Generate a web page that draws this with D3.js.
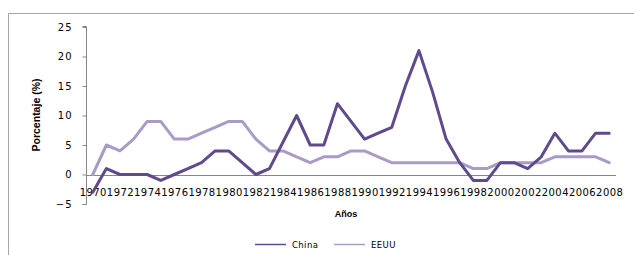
<!DOCTYPE html>
<html>
<head>
<meta charset="utf-8">
<script src="https://cdn.jsdelivr.net/npm/d3@7"></script>
<style>
  html, body { margin: 0; padding: 0; background: #fff; }
  svg { display: block; }
  text { font-family: "DejaVu Sans", Verdana, sans-serif; fill: #000; }
</style>
</head>
<body>
<svg id="chart" width="634" height="255"></svg>
<script>
const years = d3.range(1970, 2009);
const china = [-3, 1, 0, 0, 0, -1, 0, 1, 2, 4, 4, 2, 0, 1, 5.5, 10, 5, 5, 12, 9, 6, 7, 8, 15, 21, 14, 6, 2, -1, -1, 2, 2, 1, 3, 7, 4, 4, 7, 7];
const eeuu  = [0, 5, 4, 6, 9, 9, 6, 6, 7, 8, 9, 9, 6, 4, 4, 3, 2, 3, 3, 4, 4, 3, 2, 2, 2, 2, 2, 2, 1, 1, 2, 2, 2, 2, 3, 3, 3, 3, 2];
const yTicks = [-5, 0, 5, 10, 15, 20, 25];
const xTickLabels = years.filter((y, i) => i % 2 === 0);
const seriesNames = ["China", "EEUU"];
const colors = ["#604a8c", "#a99bc6"];

const svg = d3.select("#chart");

// frame
svg.append("path")
  .attr("d", "M8.5,255 V13.5 H634")
  .attr("fill", "none").attr("stroke", "#a6a6a6").attr("stroke-width", 1);

const x = d3.scalePoint().domain(years).range([86, 616]).padding(0.5);
const y = d3.scaleLinear().domain([-5, 25]).range([204, 27]);

// y axis
const yAxis = svg.append("g").attr("transform", "translate(86.5,0)")
  .call(d3.axisLeft(y).tickValues(yTicks).tickSize(4).tickPadding(10).tickFormat(d3.format("d")));
yAxis.select(".domain").attr("stroke", "#868686").attr("d", `M-4,${y(-5)+0.5}H0V${y(25)-0.5}H-4`);
yAxis.selectAll(".tick line").attr("stroke", "#868686");
yAxis.selectAll("text").style("font-family", "'DejaVu Sans', sans-serif").style("font-size", "10px")
  .style("letter-spacing", "1px").attr("fill", "#000");

// x axis at y=0
svg.append("line")
  .attr("x1", 86).attr("x2", 616)
  .attr("y1", Math.round(y(0)) + 0.5).attr("y2", Math.round(y(0)) + 0.5)
  .attr("stroke", "#868686");

const xAxis = svg.append("g").attr("transform", `translate(0,${Math.round(y(0))})`)
  .call(d3.axisBottom(x).tickValues(xTickLabels).tickSize(0).tickPadding(0));
xAxis.select(".domain").remove();
xAxis.selectAll("text")
  .attr("y", 21).attr("dy", 0)
  .style("font-family", "'DejaVu Sans', sans-serif").style("font-size", "10px")
  .style("letter-spacing", "0.45px").attr("fill", "#000");

// lines
const line = d3.line().x((d, i) => x(years[i])).y(d => y(d));
[eeuu, china].forEach((s, k) => {
  svg.append("path").datum(s)
    .attr("d", line)
    .attr("fill", "none")
    .attr("stroke", colors[1 - k])
    .attr("stroke-width", 3)
    .attr("stroke-linejoin", "round")
    .attr("stroke-linecap", "round");
});

// axis titles
svg.append("text")
  .attr("x", 346).attr("y", 216.5)
  .attr("text-anchor", "middle")
  .style("font-family", "'Liberation Sans', Arial, sans-serif")
  .style("font-size", "9px").style("font-weight", "bold")
  .text("Años");

svg.append("text")
  .attr("transform", "translate(40,115) rotate(-90)")
  .attr("text-anchor", "middle")
  .style("font-family", "'Liberation Sans Narrow', 'Liberation Sans', Arial, sans-serif")
  .style("font-size", "10.5px").style("font-weight", "bold")
  .text("Porcentaje (%)");

// legend
const legendItems = [{x: 255, name: seriesNames[0], c: colors[0]}, {x: 334, name: seriesNames[1], c: colors[1]}];
legendItems.forEach(it => {
  svg.append("line").attr("x1", it.x).attr("x2", it.x + 31)
    .attr("y1", 244.5).attr("y2", 244.5)
    .attr("stroke", it.c).attr("stroke-width", 1.5);
  svg.append("text").attr("x", it.x + 37).attr("y", 247.5)
    .style("font-family", "'DejaVu Sans', sans-serif").style("font-size", "8.5px")
    .style("letter-spacing", "0.4px")
    .text(it.name);
});
</script>
</body>
</html>
